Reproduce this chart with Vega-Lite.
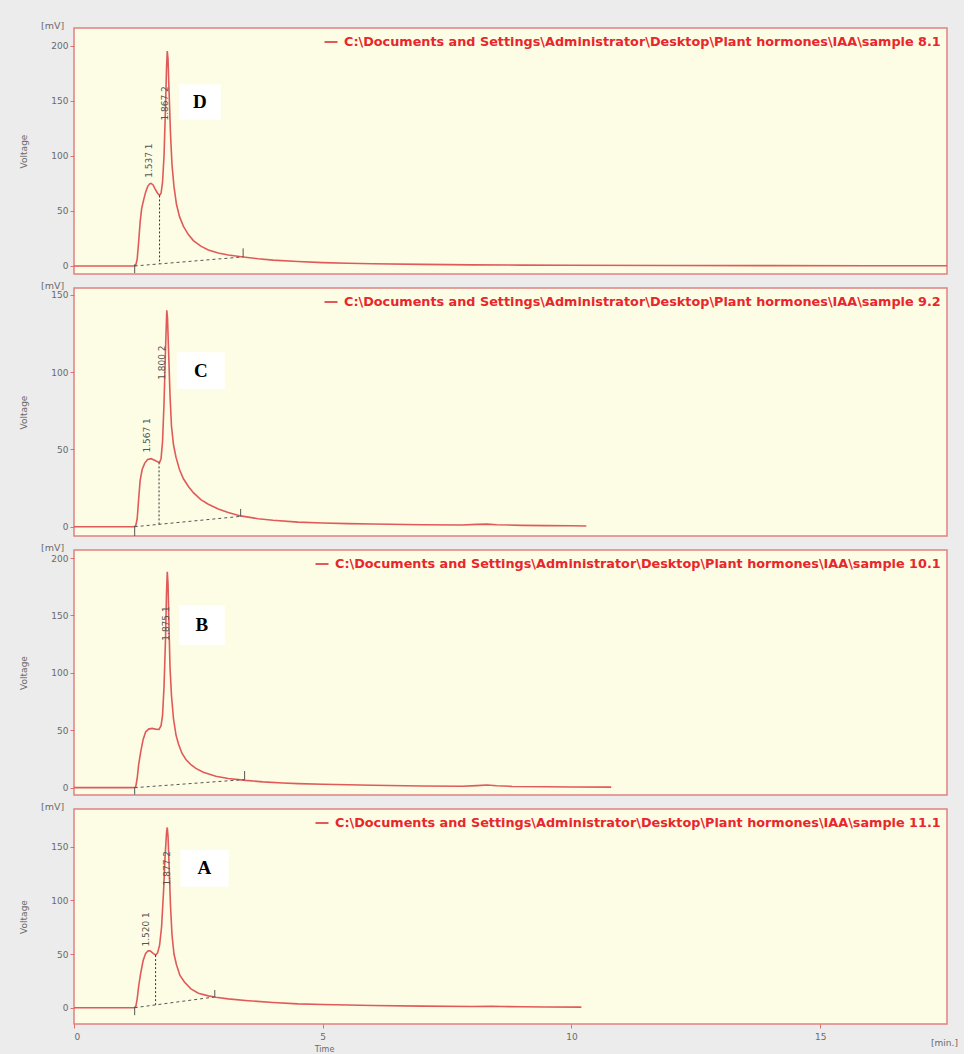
{
  "$schema": "https://vega.github.io/schema/vega-lite/v6.json",
  "background": "#ececec",
  "padding": {"left": 18, "top": 19, "right": 5, "bottom": 2},
  "spacing": 14,
  "bounds": "flush",
  "resolve": {"scale": {"x": "independent", "y": "independent", "color": "independent"}, "legend": {"color": "independent"}},
  "config": {
    "view": {"fill": "#fdfde6", "stroke": "#e08080", "strokeWidth": 1.5},
    "axis": {"labelFont": "DejaVu Sans", "labelFontSize": 9, "labelColor": "#6a6a6a", "tickColor": "#e07070", "tickSize": 4, "domain": false, "grid": false, "titleFont": "DejaVu Sans", "titleFontSize": 9, "titleColor": "#6a6a6a", "titleFontWeight": "normal", "labelPadding": 2},
    "legend": {"orient": "top-right", "offset": 6, "title": null, "symbolType": "stroke", "symbolStrokeWidth": 2, "symbolSize": 170, "symbolStrokeColor": "#f0b0a8", "labelFont": "DejaVu Sans", "labelFontWeight": "bold", "labelFontSize": 12.8, "labelColor": "#e8262b", "labelLimit": 2000, "padding": 0, "labelOffset": 5},
    "title": {"anchor": "start", "frame": "group", "dx": -33, "dy": 5, "offset": 3, "fontSize": 9.5, "font": "DejaVu Sans", "fontWeight": "normal", "color": "#6a6a6a", "baseline": "middle"}
  },
  "datasets": {
    "curve": [
      {"p":"D","t":0,"v":0},{"p":"D","t":1.2,"v":0},{"p":"D","t":1.24,"v":0.5},{"p":"D","t":1.27,"v":6},{"p":"D","t":1.3,"v":22},{"p":"D","t":1.33,"v":40},{"p":"D","t":1.36,"v":52},{"p":"D","t":1.4,"v":60},{"p":"D","t":1.44,"v":67},{"p":"D","t":1.48,"v":72},{"p":"D","t":1.52,"v":74.5},{"p":"D","t":1.55,"v":75},{"p":"D","t":1.59,"v":73.5},{"p":"D","t":1.63,"v":70},{"p":"D","t":1.68,"v":66},{"p":"D","t":1.72,"v":64},{"p":"D","t":1.75,"v":66},{"p":"D","t":1.78,"v":76},{"p":"D","t":1.81,"v":100},{"p":"D","t":1.84,"v":145},{"p":"D","t":1.86,"v":180},{"p":"D","t":1.875,"v":195},{"p":"D","t":1.89,"v":188},{"p":"D","t":1.91,"v":160},{"p":"D","t":1.94,"v":120},{"p":"D","t":1.97,"v":92},{"p":"D","t":2.01,"v":72},{"p":"D","t":2.06,"v":56},{"p":"D","t":2.12,"v":45},{"p":"D","t":2.2,"v":36},{"p":"D","t":2.3,"v":28.5},{"p":"D","t":2.4,"v":23},{"p":"D","t":2.55,"v":18},{"p":"D","t":2.7,"v":14.5},{"p":"D","t":2.9,"v":11.8},{"p":"D","t":3.1,"v":10},{"p":"D","t":3.4,"v":8.2},{"p":"D","t":3.7,"v":6.5},{"p":"D","t":4.0,"v":5.3},{"p":"D","t":4.5,"v":4.0},{"p":"D","t":5.0,"v":3.0},{"p":"D","t":5.5,"v":2.4},{"p":"D","t":6.0,"v":2.0},{"p":"D","t":7.0,"v":1.4},{"p":"D","t":8.0,"v":1.0},{"p":"D","t":9.0,"v":0.8},{"p":"D","t":10.0,"v":0.6},{"p":"D","t":12.0,"v":0.4},{"p":"D","t":14.0,"v":0.3},{"p":"D","t":16.0,"v":0.2},{"p":"D","t":17.55,"v":0.2},
      {"p":"C","t":0,"v":0},{"p":"C","t":1.2,"v":0},{"p":"C","t":1.24,"v":0.5},{"p":"C","t":1.27,"v":5},{"p":"C","t":1.3,"v":18},{"p":"C","t":1.33,"v":30},{"p":"C","t":1.37,"v":37},{"p":"C","t":1.42,"v":41},{"p":"C","t":1.48,"v":43.5},{"p":"C","t":1.55,"v":44},{"p":"C","t":1.62,"v":43},{"p":"C","t":1.68,"v":42},{"p":"C","t":1.72,"v":41.6},{"p":"C","t":1.75,"v":44},{"p":"C","t":1.78,"v":55},{"p":"C","t":1.81,"v":80},{"p":"C","t":1.84,"v":115},{"p":"C","t":1.865,"v":140},{"p":"C","t":1.88,"v":135},{"p":"C","t":1.9,"v":115},{"p":"C","t":1.93,"v":85},{"p":"C","t":1.96,"v":65},{"p":"C","t":2.0,"v":53},{"p":"C","t":2.05,"v":45},{"p":"C","t":2.12,"v":37},{"p":"C","t":2.2,"v":31},{"p":"C","t":2.3,"v":26},{"p":"C","t":2.4,"v":22},{"p":"C","t":2.55,"v":17.5},{"p":"C","t":2.7,"v":14.5},{"p":"C","t":2.9,"v":11.5},{"p":"C","t":3.1,"v":9.2},{"p":"C","t":3.35,"v":7},{"p":"C","t":3.7,"v":5.2},{"p":"C","t":4.0,"v":4.2},{"p":"C","t":4.5,"v":3.0},{"p":"C","t":5.0,"v":2.4},{"p":"C","t":5.5,"v":2.0},{"p":"C","t":6.0,"v":1.8},{"p":"C","t":7.0,"v":1.3},{"p":"C","t":7.8,"v":1.1},{"p":"C","t":8.1,"v":1.5},{"p":"C","t":8.3,"v":1.7},{"p":"C","t":8.5,"v":1.3},{"p":"C","t":9.0,"v":0.9},{"p":"C","t":9.5,"v":0.7},{"p":"C","t":10.0,"v":0.6},{"p":"C","t":10.3,"v":0.5},
      {"p":"B","t":0,"v":0},{"p":"B","t":1.2,"v":0},{"p":"B","t":1.24,"v":0.5},{"p":"B","t":1.27,"v":8},{"p":"B","t":1.3,"v":20},{"p":"B","t":1.34,"v":31},{"p":"B","t":1.39,"v":42},{"p":"B","t":1.44,"v":48.5},{"p":"B","t":1.5,"v":51},{"p":"B","t":1.57,"v":51.6},{"p":"B","t":1.64,"v":51},{"p":"B","t":1.71,"v":50.7},{"p":"B","t":1.75,"v":54},{"p":"B","t":1.78,"v":63},{"p":"B","t":1.81,"v":88},{"p":"B","t":1.84,"v":130},{"p":"B","t":1.86,"v":170},{"p":"B","t":1.875,"v":188},{"p":"B","t":1.89,"v":178},{"p":"B","t":1.91,"v":140},{"p":"B","t":1.93,"v":105},{"p":"B","t":1.96,"v":80},{"p":"B","t":2.0,"v":60},{"p":"B","t":2.05,"v":46},{"p":"B","t":2.1,"v":38},{"p":"B","t":2.17,"v":30},{"p":"B","t":2.25,"v":24.5},{"p":"B","t":2.35,"v":20},{"p":"B","t":2.45,"v":16.8},{"p":"B","t":2.6,"v":13.5},{"p":"B","t":2.85,"v":10},{"p":"B","t":3.1,"v":8},{"p":"B","t":3.45,"v":6.3},{"p":"B","t":3.8,"v":5.0},{"p":"B","t":4.2,"v":4.0},{"p":"B","t":4.5,"v":3.5},{"p":"B","t":5.0,"v":3.0},{"p":"B","t":5.5,"v":2.5},{"p":"B","t":6.0,"v":2.1},{"p":"B","t":7.0,"v":1.5},{"p":"B","t":7.8,"v":1.2},{"p":"B","t":8.1,"v":1.8},{"p":"B","t":8.3,"v":2.3},{"p":"B","t":8.5,"v":1.7},{"p":"B","t":8.8,"v":1.1},{"p":"B","t":9.5,"v":0.8},{"p":"B","t":10.0,"v":0.6},{"p":"B","t":10.8,"v":0.5},
      {"p":"A","t":0,"v":0},{"p":"A","t":1.2,"v":0},{"p":"A","t":1.24,"v":0.5},{"p":"A","t":1.27,"v":8},{"p":"A","t":1.3,"v":20},{"p":"A","t":1.34,"v":32},{"p":"A","t":1.39,"v":44},{"p":"A","t":1.44,"v":50.5},{"p":"A","t":1.49,"v":53},{"p":"A","t":1.53,"v":53},{"p":"A","t":1.58,"v":51},{"p":"A","t":1.64,"v":49},{"p":"A","t":1.68,"v":51},{"p":"A","t":1.72,"v":58},{"p":"A","t":1.76,"v":75},{"p":"A","t":1.8,"v":108},{"p":"A","t":1.83,"v":140},{"p":"A","t":1.86,"v":163},{"p":"A","t":1.875,"v":168},{"p":"A","t":1.89,"v":160},{"p":"A","t":1.91,"v":135},{"p":"A","t":1.94,"v":95},{"p":"A","t":1.97,"v":68},{"p":"A","t":2.01,"v":50},{"p":"A","t":2.06,"v":40},{"p":"A","t":2.13,"v":30},{"p":"A","t":2.22,"v":24},{"p":"A","t":2.35,"v":17.5},{"p":"A","t":2.5,"v":13.5},{"p":"A","t":2.7,"v":11},{"p":"A","t":2.85,"v":9.7},{"p":"A","t":3.1,"v":8.2},{"p":"A","t":3.5,"v":6.5},{"p":"A","t":4.0,"v":4.8},{"p":"A","t":4.5,"v":3.6},{"p":"A","t":5.0,"v":3.0},{"p":"A","t":5.5,"v":2.5},{"p":"A","t":6.0,"v":2.1},{"p":"A","t":7.0,"v":1.5},{"p":"A","t":8.0,"v":1.1},{"p":"A","t":8.4,"v":1.3},{"p":"A","t":8.6,"v":1.1},{"p":"A","t":9.0,"v":0.9},{"p":"A","t":9.5,"v":0.7},{"p":"A","t":10.2,"v":0.5}
    ],
    "base": [
      {"p":"D","t":1.22,"v":0},{"p":"D","t":3.4,"v":8.2},
      {"p":"C","t":1.22,"v":0},{"p":"C","t":3.35,"v":6.7},
      {"p":"B","t":1.22,"v":0},{"p":"B","t":3.43,"v":7},
      {"p":"A","t":1.22,"v":0},{"p":"A","t":2.83,"v":10}
    ],
    "drops": [
      {"p":"D","t":1.72,"v1":64,"v2":1.8},
      {"p":"C","t":1.71,"v1":41.6,"v2":1.5},
      {"p":"A","t":1.64,"v1":49,"v2":2.6}
    ],
    "ticks": [
      {"p":"D","t":1.22,"v1":-6.5,"v2":1.5},{"p":"D","t":3.4,"v1":8.2,"v2":16},
      {"p":"C","t":1.22,"v1":-6,"v2":0.5},{"p":"C","t":3.35,"v1":6.7,"v2":11.5},
      {"p":"B","t":1.22,"v1":-6,"v2":0.5},{"p":"B","t":3.43,"v1":7,"v2":14.5},
      {"p":"A","t":1.22,"v1":-7,"v2":1},{"p":"A","t":2.83,"v1":10,"v2":16.5}
    ],
    "labels": [
      {"p":"D","t":1.5,"v":80,"label":"1.537  1"},{"p":"D","t":1.83,"v":132,"label":"1.867  2"},
      {"p":"C","t":1.47,"v":48,"label":"1.567  1"},{"p":"C","t":1.77,"v":95,"label":"1.800  2"},
      {"p":"B","t":1.84,"v":128,"label":"1.875  1"},
      {"p":"A","t":1.44,"v":57,"label":"1.520  1"},{"p":"A","t":1.86,"v":114,"label":"1.877  2"}
    ],
    "boxes": [
      {"p":"D","t1":2.11,"t2":2.95,"v1":133,"v2":165,"tc":2.53,"vc":148.5,"letter":"D"},
      {"p":"C","t1":2.07,"t2":3.03,"v1":89,"v2":112.8,"tc":2.55,"vc":100.9,"letter":"C"},
      {"p":"B","t1":2.11,"t2":3.03,"v1":124,"v2":158.8,"tc":2.57,"vc":141.4,"letter":"B"},
      {"p":"A","t1":2.14,"t2":3.11,"v1":112.7,"v2":147,"tc":2.62,"vc":129.8,"letter":"A"}
    ]
  },
  "vconcat": [
    {
      "width": 873, "height": 246,
      "title": {"text": "[mV]"},
      "resolve": {"axis": {"y": "independent"}},
      "layer": [
        {"data": {"name": "curve"}, "transform": [{"filter": "datum.p == 'D'"}], "mark": {"type": "line", "strokeWidth": 1.6},
         "encoding": {"x": {"field": "t", "type": "quantitative", "scale": {"domain": [0, 17.55], "nice": false, "zero": false}, "axis": null},
                      "y": {"field": "v", "type": "quantitative", "scale": {"domain": [-7.3, 216], "nice": false, "zero": false}, "axis": {"values": [0, 50, 100, 150, 200], "title": "Voltage", "titleX": -46}},
                      "color": {"datum": "C:\\Documents and Settings\\Administrator\\Desktop\\Plant hormones\\IAA\\sample 8.1", "type": "nominal", "scale": {"range": ["#e05a5a"]}, "legend": {"symbolStrokeColor": "#f0b0a8"}}}},
        {"data": {"name": "boxes"}, "transform": [{"filter": "datum.p == 'D'"}], "mark": {"type": "rect", "fill": "white"},
         "encoding": {"x": {"field": "t1", "type": "quantitative", "scale": {"domain": [0, 17.55], "nice": false, "zero": false}, "axis": null}, "x2": {"field": "t2"},
                      "y": {"field": "v1", "type": "quantitative", "scale": {"domain": [-7.3, 216], "nice": false, "zero": false}, "axis": null}, "y2": {"field": "v2"}}},
        {"data": {"name": "boxes"}, "transform": [{"filter": "datum.p == 'D'"}], "mark": {"type": "text", "font": "Liberation Serif", "fontWeight": "bold", "fontSize": 19, "color": "#000000"},
         "encoding": {"x": {"field": "tc", "type": "quantitative", "scale": {"domain": [0, 17.55], "nice": false, "zero": false}, "axis": null},
                      "y": {"field": "vc", "type": "quantitative", "scale": {"domain": [-7.3, 216], "nice": false, "zero": false}, "axis": null}, "text": {"field": "letter"}}},
        {"data": {"name": "base"}, "transform": [{"filter": "datum.p == 'D'"}], "mark": {"type": "line", "strokeDash": [3, 3], "color": "#555555", "strokeWidth": 1},
         "encoding": {"x": {"field": "t", "type": "quantitative", "scale": {"domain": [0, 17.55], "nice": false, "zero": false}, "axis": null},
                      "y": {"field": "v", "type": "quantitative", "scale": {"domain": [-7.3, 216], "nice": false, "zero": false}, "axis": null}}},
        {"data": {"name": "drops"}, "transform": [{"filter": "datum.p == 'D'"}], "mark": {"type": "rule", "strokeDash": [2, 2], "color": "#333333", "strokeWidth": 1},
         "encoding": {"x": {"field": "t", "type": "quantitative", "scale": {"domain": [0, 17.55], "nice": false, "zero": false}, "axis": null},
                      "y": {"field": "v1", "type": "quantitative", "scale": {"domain": [-7.3, 216], "nice": false, "zero": false}, "axis": null}, "y2": {"field": "v2"}}},
        {"data": {"name": "ticks"}, "transform": [{"filter": "datum.p == 'D'"}], "mark": {"type": "rule", "color": "#555555", "strokeWidth": 1},
         "encoding": {"x": {"field": "t", "type": "quantitative", "scale": {"domain": [0, 17.55], "nice": false, "zero": false}, "axis": null},
                      "y": {"field": "v1", "type": "quantitative", "scale": {"domain": [-7.3, 216], "nice": false, "zero": false}, "axis": null}, "y2": {"field": "v2"}}},
        {"data": {"name": "labels"}, "transform": [{"filter": "datum.p == 'D'"}], "mark": {"type": "text", "angle": 270, "align": "left", "baseline": "middle", "fontSize": 9, "font": "DejaVu Sans", "color": "#555555"},
         "encoding": {"x": {"field": "t", "type": "quantitative", "scale": {"domain": [0, 17.55], "nice": false, "zero": false}, "axis": null},
                      "y": {"field": "v", "type": "quantitative", "scale": {"domain": [-7.3, 216], "nice": false, "zero": false}, "axis": null}, "text": {"field": "label"}}}
      ]
    },
    {
      "width": 873, "height": 248,
      "title": {"text": "[mV]"},
      "resolve": {"axis": {"y": "independent"}},
      "layer": [
        {"data": {"name": "curve"}, "transform": [{"filter": "datum.p == 'C'"}], "mark": {"type": "line", "strokeWidth": 1.6},
         "encoding": {"x": {"field": "t", "type": "quantitative", "scale": {"domain": [0, 17.55], "nice": false, "zero": false}, "axis": null},
                      "y": {"field": "v", "type": "quantitative", "scale": {"domain": [-6, 154.4], "nice": false, "zero": false}, "axis": {"values": [0, 50, 100, 150], "title": "Voltage", "titleX": -46}},
                      "color": {"datum": "C:\\Documents and Settings\\Administrator\\Desktop\\Plant hormones\\IAA\\sample 9.2", "type": "nominal", "scale": {"range": ["#e05a5a"]}, "legend": {"symbolStrokeColor": "#f0b0a8"}}}},
        {"data": {"name": "boxes"}, "transform": [{"filter": "datum.p == 'C'"}], "mark": {"type": "rect", "fill": "white"},
         "encoding": {"x": {"field": "t1", "type": "quantitative", "scale": {"domain": [0, 17.55], "nice": false, "zero": false}, "axis": null}, "x2": {"field": "t2"},
                      "y": {"field": "v1", "type": "quantitative", "scale": {"domain": [-6, 154.4], "nice": false, "zero": false}, "axis": null}, "y2": {"field": "v2"}}},
        {"data": {"name": "boxes"}, "transform": [{"filter": "datum.p == 'C'"}], "mark": {"type": "text", "font": "Liberation Serif", "fontWeight": "bold", "fontSize": 19, "color": "#000000"},
         "encoding": {"x": {"field": "tc", "type": "quantitative", "scale": {"domain": [0, 17.55], "nice": false, "zero": false}, "axis": null},
                      "y": {"field": "vc", "type": "quantitative", "scale": {"domain": [-6, 154.4], "nice": false, "zero": false}, "axis": null}, "text": {"field": "letter"}}},
        {"data": {"name": "base"}, "transform": [{"filter": "datum.p == 'C'"}], "mark": {"type": "line", "strokeDash": [3, 3], "color": "#555555", "strokeWidth": 1},
         "encoding": {"x": {"field": "t", "type": "quantitative", "scale": {"domain": [0, 17.55], "nice": false, "zero": false}, "axis": null},
                      "y": {"field": "v", "type": "quantitative", "scale": {"domain": [-6, 154.4], "nice": false, "zero": false}, "axis": null}}},
        {"data": {"name": "drops"}, "transform": [{"filter": "datum.p == 'C'"}], "mark": {"type": "rule", "strokeDash": [2, 2], "color": "#333333", "strokeWidth": 1},
         "encoding": {"x": {"field": "t", "type": "quantitative", "scale": {"domain": [0, 17.55], "nice": false, "zero": false}, "axis": null},
                      "y": {"field": "v1", "type": "quantitative", "scale": {"domain": [-6, 154.4], "nice": false, "zero": false}, "axis": null}, "y2": {"field": "v2"}}},
        {"data": {"name": "ticks"}, "transform": [{"filter": "datum.p == 'C'"}], "mark": {"type": "rule", "color": "#555555", "strokeWidth": 1},
         "encoding": {"x": {"field": "t", "type": "quantitative", "scale": {"domain": [0, 17.55], "nice": false, "zero": false}, "axis": null},
                      "y": {"field": "v1", "type": "quantitative", "scale": {"domain": [-6, 154.4], "nice": false, "zero": false}, "axis": null}, "y2": {"field": "v2"}}},
        {"data": {"name": "labels"}, "transform": [{"filter": "datum.p == 'C'"}], "mark": {"type": "text", "angle": 270, "align": "left", "baseline": "middle", "fontSize": 9, "font": "DejaVu Sans", "color": "#555555"},
         "encoding": {"x": {"field": "t", "type": "quantitative", "scale": {"domain": [0, 17.55], "nice": false, "zero": false}, "axis": null},
                      "y": {"field": "v", "type": "quantitative", "scale": {"domain": [-6, 154.4], "nice": false, "zero": false}, "axis": null}, "text": {"field": "label"}}}
      ]
    },
    {
      "width": 873, "height": 245,
      "title": {"text": "[mV]"},
      "resolve": {"axis": {"y": "independent"}},
      "layer": [
        {"data": {"name": "curve"}, "transform": [{"filter": "datum.p == 'B'"}], "mark": {"type": "line", "strokeWidth": 1.6},
         "encoding": {"x": {"field": "t", "type": "quantitative", "scale": {"domain": [0, 17.55], "nice": false, "zero": false}, "axis": null},
                      "y": {"field": "v", "type": "quantitative", "scale": {"domain": [-6.4, 207], "nice": false, "zero": false}, "axis": {"values": [0, 50, 100, 150, 200], "title": "Voltage", "titleX": -46}},
                      "color": {"datum": "C:\\Documents and Settings\\Administrator\\Desktop\\Plant hormones\\IAA\\sample 10.1", "type": "nominal", "scale": {"range": ["#e05a5a"]}, "legend": {"symbolStrokeColor": "#f0b0a8"}}}},
        {"data": {"name": "boxes"}, "transform": [{"filter": "datum.p == 'B'"}], "mark": {"type": "rect", "fill": "white"},
         "encoding": {"x": {"field": "t1", "type": "quantitative", "scale": {"domain": [0, 17.55], "nice": false, "zero": false}, "axis": null}, "x2": {"field": "t2"},
                      "y": {"field": "v1", "type": "quantitative", "scale": {"domain": [-6.4, 207], "nice": false, "zero": false}, "axis": null}, "y2": {"field": "v2"}}},
        {"data": {"name": "boxes"}, "transform": [{"filter": "datum.p == 'B'"}], "mark": {"type": "text", "font": "Liberation Serif", "fontWeight": "bold", "fontSize": 19, "color": "#000000"},
         "encoding": {"x": {"field": "tc", "type": "quantitative", "scale": {"domain": [0, 17.55], "nice": false, "zero": false}, "axis": null},
                      "y": {"field": "vc", "type": "quantitative", "scale": {"domain": [-6.4, 207], "nice": false, "zero": false}, "axis": null}, "text": {"field": "letter"}}},
        {"data": {"name": "base"}, "transform": [{"filter": "datum.p == 'B'"}], "mark": {"type": "line", "strokeDash": [3, 3], "color": "#555555", "strokeWidth": 1},
         "encoding": {"x": {"field": "t", "type": "quantitative", "scale": {"domain": [0, 17.55], "nice": false, "zero": false}, "axis": null},
                      "y": {"field": "v", "type": "quantitative", "scale": {"domain": [-6.4, 207], "nice": false, "zero": false}, "axis": null}}},
        {"data": {"name": "ticks"}, "transform": [{"filter": "datum.p == 'B'"}], "mark": {"type": "rule", "color": "#555555", "strokeWidth": 1},
         "encoding": {"x": {"field": "t", "type": "quantitative", "scale": {"domain": [0, 17.55], "nice": false, "zero": false}, "axis": null},
                      "y": {"field": "v1", "type": "quantitative", "scale": {"domain": [-6.4, 207], "nice": false, "zero": false}, "axis": null}, "y2": {"field": "v2"}}},
        {"data": {"name": "labels"}, "transform": [{"filter": "datum.p == 'B'"}], "mark": {"type": "text", "angle": 270, "align": "left", "baseline": "middle", "fontSize": 9, "font": "DejaVu Sans", "color": "#555555"},
         "encoding": {"x": {"field": "t", "type": "quantitative", "scale": {"domain": [0, 17.55], "nice": false, "zero": false}, "axis": null},
                      "y": {"field": "v", "type": "quantitative", "scale": {"domain": [-6.4, 207], "nice": false, "zero": false}, "axis": null}, "text": {"field": "label"}}}
      ]
    },
    {
      "width": 873, "height": 215,
      "title": {"text": "[mV]"},
      "resolve": {"axis": {"x": "independent", "y": "independent"}},
      "layer": [
        {"data": {"name": "curve"}, "transform": [{"filter": "datum.p == 'A'"}], "mark": {"type": "line", "strokeWidth": 1.6},
         "encoding": {"x": {"field": "t", "type": "quantitative", "scale": {"domain": [0, 17.55], "nice": false, "zero": false}, "axis": {"orient": "bottom", "values": [0, 5, 10, 15], "title": "Time", "titleX": 250, "titleY": 25, "titleAlign": "center", "titleBaseline": "middle", "titleFontSize": 8, "labelPadding": 4}},
                      "y": {"field": "v", "type": "quantitative", "scale": {"domain": [-15.2, 185.2], "nice": false, "zero": false}, "axis": {"values": [0, 50, 100, 150], "title": "Voltage", "titleX": -46}},
                      "color": {"datum": "C:\\Documents and Settings\\Administrator\\Desktop\\Plant hormones\\IAA\\sample 11.1", "type": "nominal", "scale": {"range": ["#e05a5a"]}, "legend": {"symbolStrokeColor": "#f0b0a8"}}}},
        {"data": {"name": "boxes"}, "transform": [{"filter": "datum.p == 'A'"}], "mark": {"type": "rect", "fill": "white"},
         "encoding": {"x": {"field": "t1", "type": "quantitative", "scale": {"domain": [0, 17.55], "nice": false, "zero": false}, "axis": null}, "x2": {"field": "t2"},
                      "y": {"field": "v1", "type": "quantitative", "scale": {"domain": [-15.2, 185.2], "nice": false, "zero": false}, "axis": null}, "y2": {"field": "v2"}}},
        {"data": {"name": "boxes"}, "transform": [{"filter": "datum.p == 'A'"}], "mark": {"type": "text", "font": "Liberation Serif", "fontWeight": "bold", "fontSize": 19, "color": "#000000"},
         "encoding": {"x": {"field": "tc", "type": "quantitative", "scale": {"domain": [0, 17.55], "nice": false, "zero": false}, "axis": {"orient": "bottom", "title": "[min.]", "labels": false, "ticks": false, "domain": false, "titleX": 870, "titleY": 18, "titleAlign": "center", "titleBaseline": "middle"}},
                      "y": {"field": "vc", "type": "quantitative", "scale": {"domain": [-15.2, 185.2], "nice": false, "zero": false}, "axis": null}, "text": {"field": "letter"}}},
        {"data": {"name": "base"}, "transform": [{"filter": "datum.p == 'A'"}], "mark": {"type": "line", "strokeDash": [3, 3], "color": "#555555", "strokeWidth": 1},
         "encoding": {"x": {"field": "t", "type": "quantitative", "scale": {"domain": [0, 17.55], "nice": false, "zero": false}, "axis": null},
                      "y": {"field": "v", "type": "quantitative", "scale": {"domain": [-15.2, 185.2], "nice": false, "zero": false}, "axis": null}}},
        {"data": {"name": "drops"}, "transform": [{"filter": "datum.p == 'A'"}], "mark": {"type": "rule", "strokeDash": [2, 2], "color": "#333333", "strokeWidth": 1},
         "encoding": {"x": {"field": "t", "type": "quantitative", "scale": {"domain": [0, 17.55], "nice": false, "zero": false}, "axis": null},
                      "y": {"field": "v1", "type": "quantitative", "scale": {"domain": [-15.2, 185.2], "nice": false, "zero": false}, "axis": null}, "y2": {"field": "v2"}}},
        {"data": {"name": "ticks"}, "transform": [{"filter": "datum.p == 'A'"}], "mark": {"type": "rule", "color": "#555555", "strokeWidth": 1},
         "encoding": {"x": {"field": "t", "type": "quantitative", "scale": {"domain": [0, 17.55], "nice": false, "zero": false}, "axis": null},
                      "y": {"field": "v1", "type": "quantitative", "scale": {"domain": [-15.2, 185.2], "nice": false, "zero": false}, "axis": null}, "y2": {"field": "v2"}}},
        {"data": {"name": "labels"}, "transform": [{"filter": "datum.p == 'A'"}], "mark": {"type": "text", "angle": 270, "align": "left", "baseline": "middle", "fontSize": 9, "font": "DejaVu Sans", "color": "#555555"},
         "encoding": {"x": {"field": "t", "type": "quantitative", "scale": {"domain": [0, 17.55], "nice": false, "zero": false}, "axis": null},
                      "y": {"field": "v", "type": "quantitative", "scale": {"domain": [-15.2, 185.2], "nice": false, "zero": false}, "axis": null}, "text": {"field": "label"}}}
      ]
    }
  ]
}
